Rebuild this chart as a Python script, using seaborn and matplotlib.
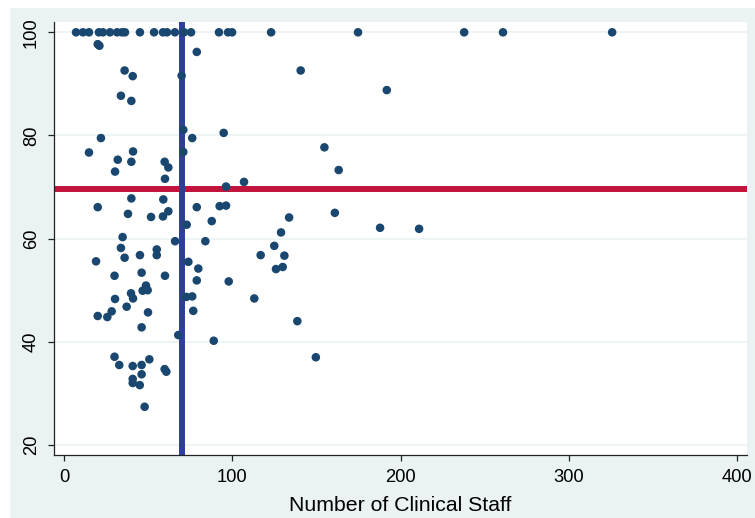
import matplotlib
matplotlib.use("Agg")
import matplotlib.pyplot as plt
from matplotlib.patches import Rectangle
import pandas as pd
import seaborn as sns

# values
staff = [7.0, 11.1, 14.7, 20.6, 23.0, 27.2, 31.4, 34.3, 36.1, 45.0, 53.4, 58.7,
         61.1, 65.8, 71.2, 75.4, 92.0, 97.4, 99.8, 123.0, 174.7, 237.8, 260.9, 325.8,
         19.9, 20.9, 78.8, 35.9, 40.7, 69.8, 140.6, 33.7, 39.9, 191.8,
         70.8, 76.1, 21.8, 94.8, 14.7, 40.9, 70.8, 154.7, 31.8, 39.9, 59.7, 61.9,
         30.2, 163.2, 59.9, 96.2, 106.9,
         39.9, 58.9, 19.9, 78.8, 92.4, 96.2, 37.9, 61.9, 51.6, 58.7, 133.7, 160.9,
         87.7, 72.8, 187.8, 211.0, 128.9, 34.7, 83.9, 65.9,
         33.7, 55.0, 124.9, 35.9, 45.0, 55.0, 116.8, 130.9, 18.9, 73.8, 79.7, 125.9,
         129.9, 29.9, 46.0, 59.9, 78.8, 97.8, 48.6, 39.7, 46.6, 49.6, 30.2, 40.9,
         72.6, 76.1, 113.0, 37.1, 49.8, 76.7, 19.9, 25.6, 28.2, 138.6,
         46.0, 67.8, 88.9, 29.9, 32.7, 40.7, 46.0, 50.6, 59.7, 60.7, 46.0, 40.7,
         40.7, 44.9, 47.8, 149.6]
score = [100] * 24 + [
         97.7, 97.4, 96.2, 92.6, 91.5, 91.6, 92.6, 87.7, 86.7, 88.8,
         81.1, 79.5, 79.5, 80.5, 76.7, 76.9, 76.8, 77.7, 75.3, 74.9, 74.9, 73.8,
         73.0, 73.3, 71.6, 70.1, 71.0,
         67.8, 67.6, 66.1, 66.1, 66.3, 66.4, 64.8, 65.3, 64.2, 64.3, 64.1, 65.0,
         63.4, 62.7, 62.1, 61.9, 61.2, 60.3, 59.5, 59.5,
         58.2, 57.9, 58.6, 56.3, 56.8, 56.8, 56.8, 56.7, 55.6, 55.5, 54.2, 54.1,
         54.5, 52.8, 53.4, 52.8, 51.9, 51.7, 50.9, 49.4, 49.9, 50.0, 48.3, 48.4,
         48.7, 48.8, 48.4, 46.8, 45.7, 46.0, 45.0, 44.8, 45.9, 44.0,
         42.8, 41.3, 40.2, 37.1, 35.5, 35.3, 35.5, 36.6, 34.7, 34.2, 33.7, 32.8,
         32.0, 31.6, 27.4, 37.0]
staff_ref = 70.2
score_ref = 69.6
x_ticks = [0, 100, 200, 300, 400]
y_ticks = [20, 40, 60, 80, 100]

bg = "#EAF2F3"
sns.set_style("white")
plt.rcParams["font.family"] = ["Liberation Sans", "DejaVu Sans"]

df = pd.DataFrame({"staff": staff, "score": score})

fig = plt.figure(figsize=(7.55, 5.18), dpi=100, facecolor="white")
# grey graph region, with a thin white strip at top and left like the original
region = Rectangle((10 / 755, 0), 1, (518 - 8) / 518, transform=fig.transFigure,
                   facecolor=bg, edgecolor="none")
region.set_zorder(-10)
fig.add_artist(region)
ax = fig.add_axes([54 / 755, 63 / 518, 693 / 755, 433 / 518])
ax.set_zorder(1)
ax.set_facecolor("white")

ax.axhline(score_ref, color="#C0143A", lw=4.3, zorder=2)
ax.axvline(staff_ref, color="#2F3E9E", lw=4.3, zorder=2)
sns.scatterplot(data=df, x="staff", y="score", ax=ax, color="#1A476F", s=38,
                edgecolor="none", zorder=3)

ax.set_xlim(-6.1, 406)
ax.set_ylim(18.05, 102)
ax.set_xticks(x_ticks)
ax.set_yticks(y_ticks)
ax.grid(axis="y", color=bg, lw=1.2)
ax.set_axisbelow(True)
for s in ["top", "right"]:
    ax.spines[s].set_visible(False)
for s in ["left", "bottom"]:
    ax.spines[s].set_color("#222222")
    ax.spines[s].set_linewidth(0.9)
ax.tick_params(axis="both", length=4, width=0.9, color="#222222", labelsize=13.2,
               labelcolor="black", direction="out", pad=6, bottom=True, left=True)
plt.setp(ax.get_yticklabels(), rotation=90, va="center")
ax.set_xlabel("Number of Clinical Staff", fontsize=15.3, labelpad=7, color="black")
ax.set_ylabel("")

fig.savefig("out.png", dpi=100, facecolor=fig.get_facecolor())
